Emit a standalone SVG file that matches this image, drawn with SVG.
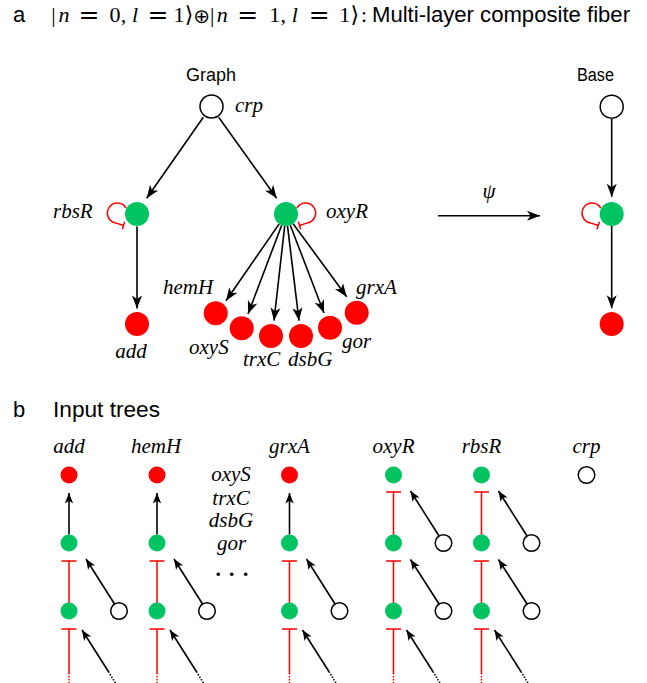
<svg xmlns="http://www.w3.org/2000/svg" width="647" height="683" viewBox="0 0 647 683">
<style>
.blk{stroke:#000;stroke-width:1.6;fill:none}
.arA{marker-end:url(#ah)}
.arB{marker-end:url(#ahs)}
.red{stroke:#f00;stroke-width:1.5;fill:none}
.dot{stroke-dasharray:1.5 1.5}
.g{fill:#00C462}
.r{fill:#f00}
.w{fill:#fff;stroke:#000;stroke-width:1.5}
.lab{font-family:"Liberation Serif","Times New Roman",serif;font-style:italic;font-size:21px;fill:#000}
.sans{font-family:"Liberation Sans",Arial,sans-serif;fill:#000}
.m{font-family:"Liberation Serif","Times New Roman",serif;font-size:22px;fill:#000}
.mi{font-family:"Liberation Serif","Times New Roman",serif;font-style:italic;font-size:22px;fill:#000}
.eq{font-family:"DejaVu Sans",sans-serif;font-size:25px;fill:#000}
.c{text-anchor:middle}
</style>
<defs>
<marker id="ah" viewBox="-14 -6 15 12" refX="0" refY="0" markerWidth="15" markerHeight="12" markerUnits="userSpaceOnUse" orient="auto"><path d="M0,0 L-13,-5 L-9.5,0 L-13,5 Z" fill="#000"/></marker>
<marker id="ahs" viewBox="-11 -5 12 10" refX="0" refY="0" markerWidth="12" markerHeight="10" markerUnits="userSpaceOnUse" orient="auto"><path d="M0,0 L-10.5,-4.2 L-7.8,0 L-10.5,4.2 Z" fill="#000"/></marker>
</defs>

<!-- Title -->
<g id="title">
<text class="sans" x="13" y="22" font-size="22">a</text>
<text class="m c" x="53.5" y="22">|</text>
<text class="mi c" x="64" y="22">n</text>
<text class="eq c" x="89" y="23">=</text>
<text class="m c" x="115" y="22">0</text>
<text class="m c" x="123.5" y="22">,</text>
<text class="mi c" x="135" y="22">l</text>
<text class="eq c" x="158" y="23">=</text>
<text class="m c" x="179" y="22">1</text>
<text class="c" x="189" y="22" font-family="DejaVu Sans,sans-serif" font-size="22">⟩</text>
<text class="c" x="201.6" y="23" font-family="DejaVu Sans,sans-serif" font-size="20">⊕</text>
<text class="m c" x="212.3" y="22">|</text>
<text class="mi c" x="222.3" y="22">n</text>
<text class="eq c" x="247.8" y="23">=</text>
<text class="m c" x="274.8" y="22">1</text>
<text class="m c" x="283.3" y="22">,</text>
<text class="mi c" x="294.8" y="22">l</text>
<text class="eq c" x="319.3" y="23">=</text>
<text class="m c" x="344.8" y="22">1</text>
<text class="c" x="354.8" y="22" font-family="DejaVu Sans,sans-serif" font-size="22">⟩</text>
<text class="m c" x="364" y="22">:</text>
<text class="sans" x="372" y="22" font-size="22" textLength="258" lengthAdjust="spacingAndGlyphs">Multi-layer composite fiber</text>
</g>

<g id="section-a-labels">
<text class="sans c" x="211" y="81" font-size="18">Graph</text>
<text class="sans c" x="595.5" y="81" font-size="18" textLength="37" lengthAdjust="spacingAndGlyphs">Base</text>
<text class="lab" x="489" y="198" text-anchor="middle" font-size="22">ψ</text>
</g>

<!-- Connectors -->
<g id="connectors">
<!-- section a -->
<path class="blk arA" d="M203.3,117.3 L146.7,198.3"/>
<path class="blk arA" d="M218.7,117.3 L276.7,198.3"/>
<path class="blk arA" d="M137,226.5 L137,308.5"/>
<path class="blk arA" d="M279.2,223.9 L226,300.7"/>
<path class="blk arA" d="M281.7,225.2 L248,314"/>
<path class="blk arA" d="M284.7,225.9 L274,320.7"/>
<path class="blk arA" d="M287.5,225.9 L299,320.7"/>
<path class="blk arA" d="M290.3,225.2 L324,313"/>
<path class="blk arA" d="M293.1,223.7 L346.7,296.7"/>
<path class="blk arA" d="M611.7,119 L611.7,196.7"/>
<path class="blk arA" d="M611.7,226 L611.7,308.3"/>
<path class="blk arA" d="M438,215.7 L540,215.7"/>
<!-- self loops -->
<path class="red" d="M126,208 A10,10 0 1 0 115.6,222.9 L123.5,225.5 M124.7,221.7 L122.3,229.3"/>
<path class="red" d="M297,208 A10,10 0 1 1 307.4,222.9 L299.5,225.5 M298.3,221.7 L300.7,229.3"/>
<path class="red" d="M600.7,208 A10,10 0 1 0 590.3,222.9 L598.2,225.5 M599.4,221.7 L597,229.3"/>

<!-- section b: add column X=69 -->
<path class="blk arB" d="M69,534.5 L69,493"/>
<path class="red" d="M61.5,561 L76.5,561 M69,561 L69,603 M61.5,629 L76.5,629 M69,629 L69,673"/>
<path class="red dot" d="M69,673 L69,683"/>
<path class="blk arB" d="M114.7,604.2 L86,559"/>
<path class="blk arB" d="M108.7,672 L82,630"/>
<path class="blk dot" d="M115.4,683 L108.7,672"/>
<!-- hemH column X=157 -->
<path class="blk arB" d="M157,534.5 L157,493"/>
<path class="red" d="M149.5,561 L164.5,561 M157,561 L157,603 M149.5,629 L164.5,629 M157,629 L157,673"/>
<path class="red dot" d="M157,673 L157,683"/>
<path class="blk arB" d="M202.7,604.2 L174,559"/>
<path class="blk arB" d="M196.7,672 L170,630"/>
<path class="blk dot" d="M203.4,683 L196.7,672"/>
<!-- grxA column X=289.5 -->
<path class="blk arB" d="M289.5,534.5 L289.5,493"/>
<path class="red" d="M282,561 L297,561 M289.5,561 L289.5,603 M282,629 L297,629 M289.5,629 L289.5,673"/>
<path class="red dot" d="M289.5,673 L289.5,683"/>
<path class="blk arB" d="M335.2,604.2 L306.5,559"/>
<path class="blk arB" d="M329.2,672 L302.5,630"/>
<path class="blk dot" d="M335.9,683 L329.2,672"/>
<!-- oxyR column X=393.5 -->
<path class="red" d="M386,492 L401,492 M393.5,492 L393.5,535 M386,561 L401,561 M393.5,561 L393.5,603 M386,629 L401,629 M393.5,629 L393.5,673"/>
<path class="red dot" d="M393.5,673 L393.5,683"/>
<path class="blk arB" d="M439.2,536.2 L410.5,491"/>
<path class="blk arB" d="M439.2,604.2 L410.5,559.5"/>
<path class="blk arB" d="M433.2,672 L406.5,630"/>
<path class="blk dot" d="M439.9,683 L433.2,672"/>
<!-- rbsR column X=481.5 -->
<path class="red" d="M474,492 L489,492 M481.5,492 L481.5,535 M474,561 L489,561 M481.5,561 L481.5,603 M474,629 L489,629 M481.5,629 L481.5,673"/>
<path class="red dot" d="M481.5,673 L481.5,683"/>
<path class="blk arB" d="M527.2,536.2 L498.5,491"/>
<path class="blk arB" d="M527.2,604.2 L498.5,559.5"/>
<path class="blk arB" d="M521.2,672 L494.5,630"/>
<path class="blk dot" d="M527.9,683 L521.2,672"/>
</g>

<!-- Section a nodes -->
<g id="node-crp"><circle class="w" cx="211.5" cy="106.5" r="11.5"/><text class="lab" x="235" y="112">crp</text></g>
<g id="node-rbsR"><circle class="g" cx="137" cy="214" r="12"/><text class="lab" x="53" y="218">rbsR</text></g>
<g id="node-oxyR"><circle class="g" cx="286" cy="214" r="12"/><text class="lab" x="326" y="218">oxyR</text></g>
<g id="node-add"><circle class="r" cx="137" cy="324" r="12"/><text class="lab c" x="131" y="358">add</text></g>
<g id="node-hemH"><circle class="r" cx="215.7" cy="313.3" r="12"/><text class="lab" x="163" y="294">hemH</text></g>
<g id="node-oxyS"><circle class="r" cx="241.7" cy="328.3" r="12"/><text class="lab" x="189" y="354">oxyS</text></g>
<g id="node-trxC"><circle class="r" cx="271" cy="336" r="12"/><text class="lab" x="243" y="366">trxC</text></g>
<g id="node-dsbG"><circle class="r" cx="301" cy="336" r="12"/><text class="lab" x="288" y="366">dsbG</text></g>
<g id="node-gor"><circle class="r" cx="330" cy="327.7" r="12"/><text class="lab" x="342" y="348">gor</text></g>
<g id="node-grxA"><circle class="r" cx="356.7" cy="312.7" r="12"/><text class="lab" x="356" y="294">grxA</text></g>
<g id="node-base-top"><circle class="w" cx="611.7" cy="106.7" r="11.5"/></g>
<g id="node-base-mid"><circle class="g" cx="611.7" cy="214" r="12"/></g>
<g id="node-base-bot"><circle class="r" cx="611.7" cy="324" r="12"/></g>

<!-- Section b -->
<g id="section-b-title">
<text class="sans" x="13" y="417" font-size="22">b</text>
<text class="sans" x="53" y="417" font-size="22" textLength="107" lengthAdjust="spacingAndGlyphs">Input trees</text>
</g>
<g id="tree-add">
<text class="lab c" x="69" y="453">add</text>
<circle class="r" cx="69" cy="475" r="8.5"/>
<circle class="g" cx="69" cy="543" r="8.5"/>
<circle class="g" cx="69" cy="611" r="8.5"/>
<circle class="w" cx="119" cy="611" r="8.3"/>
</g>
<g id="tree-hemH">
<text class="lab c" x="156" y="453">hemH</text>
<circle class="r" cx="157" cy="475" r="8.5"/>
<circle class="g" cx="157" cy="543" r="8.5"/>
<circle class="g" cx="157" cy="611" r="8.5"/>
<circle class="w" cx="207" cy="611" r="8.3"/>
</g>
<g id="tree-others">
<text class="lab c" x="231" y="481">oxyS</text>
<text class="lab c" x="231" y="505">trxC</text>
<text class="lab c" x="231" y="527">dsbG</text>
<text class="lab c" x="231.5" y="550">gor</text>
<circle cx="218.3" cy="574.3" r="1.8" fill="#000"/>
<circle cx="231.7" cy="574.3" r="1.8" fill="#000"/>
<circle cx="245.7" cy="574.3" r="1.8" fill="#000"/>
</g>
<g id="tree-grxA">
<text class="lab c" x="289.5" y="453">grxA</text>
<circle class="r" cx="289.5" cy="475" r="8.5"/>
<circle class="g" cx="289.5" cy="543" r="8.5"/>
<circle class="g" cx="289.5" cy="611" r="8.5"/>
<circle class="w" cx="339.5" cy="611" r="8.3"/>
</g>
<g id="tree-oxyR">
<text class="lab c" x="393.5" y="453">oxyR</text>
<circle class="g" cx="393.5" cy="475" r="8.5"/>
<circle class="g" cx="393.5" cy="543" r="8.5"/>
<circle class="g" cx="393.5" cy="611" r="8.5"/>
<circle class="w" cx="443.5" cy="543" r="8.3"/>
<circle class="w" cx="443.5" cy="611" r="8.3"/>
</g>
<g id="tree-rbsR">
<text class="lab c" x="481.5" y="453">rbsR</text>
<circle class="g" cx="481.5" cy="475" r="8.5"/>
<circle class="g" cx="481.5" cy="543" r="8.5"/>
<circle class="g" cx="481.5" cy="611" r="8.5"/>
<circle class="w" cx="531.5" cy="543" r="8.3"/>
<circle class="w" cx="531.5" cy="611" r="8.3"/>
</g>
<g id="tree-crp">
<text class="lab c" x="586.5" y="453">crp</text>
<circle class="w" cx="586.5" cy="475" r="8.3"/>
</g>
</svg>
